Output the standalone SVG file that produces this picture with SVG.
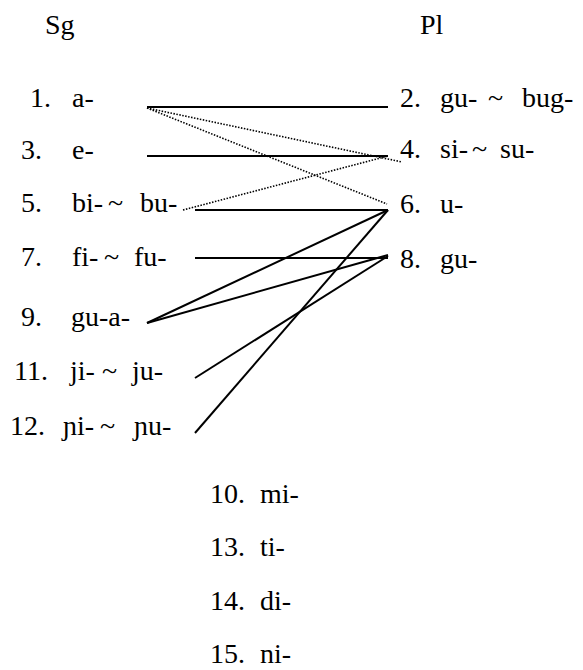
<svg xmlns="http://www.w3.org/2000/svg" width="583" height="670" viewBox="0 0 583 670">
<style>
text{font-family:'Liberation Serif','DejaVu Serif',serif;font-size:28px;fill:#000}
.s{stroke:#000;stroke-width:2;fill:none}
.d{stroke:#000;stroke-width:1.6;stroke-dasharray:1.5 1.5;fill:none}
</style>
<rect width="583" height="670" fill="#fff"/>
<g id="headers"><text x="45" y="34">Sg</text><text x="420" y="34">Pl</text></g>
<g id="sg1"><text x="30" y="107">1.</text><text x="72" y="107">a-</text></g>
<g id="sg3"><text x="21" y="159">3.</text><text x="72" y="159">e-</text></g>
<g id="sg5"><text x="21" y="212">5.</text><text y="212"><tspan x="72">bi-</tspan><tspan x="108">~</tspan><tspan x="140">bu-</tspan></text></g>
<g id="sg7"><text x="21" y="266">7.</text><text y="266"><tspan x="72">fi-</tspan><tspan x="104">~</tspan><tspan x="134">fu-</tspan></text></g>
<g id="sg9"><text x="21" y="326">9.</text><text x="71" y="326">gu-a-</text></g>
<g id="sg11"><text x="14" y="380">11.</text><text y="380"><tspan x="70">ji-</tspan><tspan x="102">~</tspan><tspan x="132">ju-</tspan></text></g>
<g id="sg12"><text x="10" y="435">12.</text><text y="435"><tspan x="63">ɲi-</tspan><tspan x="100">~</tspan><tspan x="134">ɲu-</tspan></text></g>
<g id="pl2"><text x="400" y="107">2.</text><text y="107"><tspan x="440">gu-</tspan><tspan x="488">~</tspan><tspan x="522">bug-</tspan></text></g>
<g id="pl4"><text x="400" y="158">4.</text><text y="158"><tspan x="440">si-</tspan><tspan x="472">~</tspan><tspan x="500">su-</tspan></text></g>
<g id="pl6"><text x="400" y="213">6.</text><text x="440" y="213">u-</text></g>
<g id="pl8"><text x="400" y="268">8.</text><text x="440" y="268">gu-</text></g>
<g id="n10"><text x="210" y="503">10.</text><text x="260" y="503">mi-</text></g>
<g id="n13"><text x="210" y="556">13.</text><text x="260" y="556">ti-</text></g>
<g id="n14"><text x="210" y="610">14.</text><text x="260" y="610">di-</text></g>
<g id="n15"><text x="210" y="663">15.</text><text x="260" y="663">ni-</text></g>
<g id="connectors">
<line class="s" x1="147" y1="107" x2="388" y2="107"/>
<line class="s" x1="147" y1="156" x2="388" y2="156"/>
<line class="s" x1="195" y1="210" x2="388" y2="210"/>
<line class="s" x1="195" y1="258" x2="388" y2="258"/>
<line class="s" x1="147" y1="323" x2="388" y2="210"/>
<line class="s" x1="147" y1="323" x2="388" y2="255"/>
<line class="s" x1="195" y1="378" x2="388" y2="256"/>
<line class="s" x1="195" y1="433" x2="388" y2="210"/>
<line class="d" x1="147" y1="108" x2="402" y2="162"/>
<line class="d" x1="147" y1="108" x2="387" y2="204"/>
<line class="d" x1="183" y1="210" x2="388" y2="156"/>
</g>
</svg>
